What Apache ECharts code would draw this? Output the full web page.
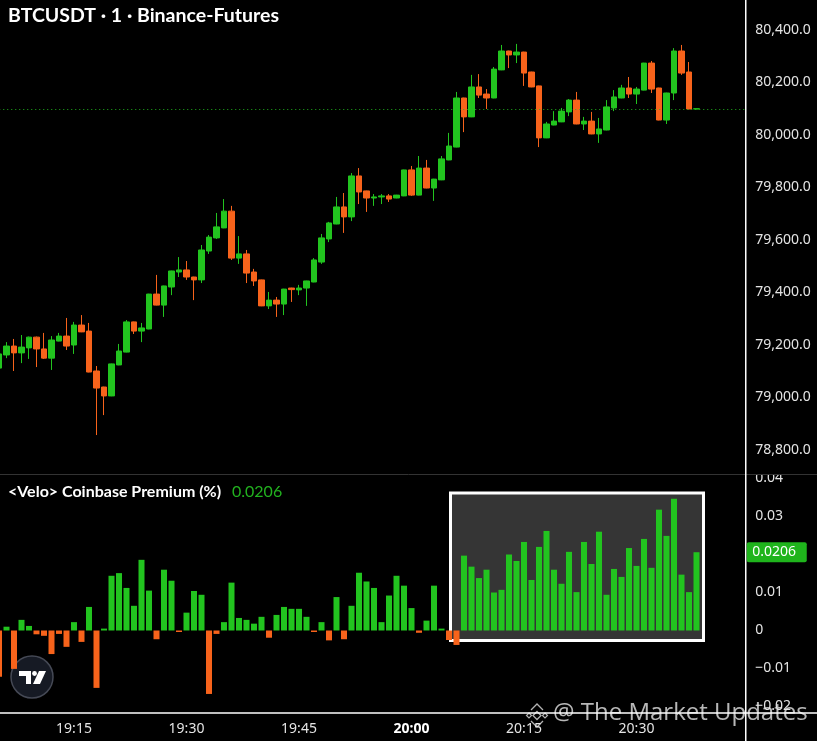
<!DOCTYPE html>
<html>
<head>
<meta charset="utf-8">
<script src="https://cdn.jsdelivr.net/npm/echarts@6/dist/echarts.min.js"></script>
<style>
  html, body { margin: 0; padding: 0; background: #000; }
  #chart { width: 817px; height: 741px; }
</style>
</head>
<body>
<div id="chart"></div>
<script>
// ---- Data (1-minute candles, BTCUSDT Binance-Futures) ----
const startMinute = 19 * 60 + 5;   // first candle 19:05
const slotCount = 100;             // 94 candles + empty space on the right
const tickLabels = ['19:15', '19:30', '19:45', '20:00', '20:15', '20:30'];

const opens = [79112,79162,79196,79170,79189,79230,79185,79150,79215,79234,
  79200,79276,79253,79101,79040,79006,79124,79173,79288,79253,
  79261,79394,79352,79421,79478,79486,79459,79448,79558,79608,
  79646,79710,79531,79547,79478,79448,79349,79371,79356,79417,
  79410,79417,79440,79516,79604,79661,79726,79688,79844,79787,
  79760,79764,79768,79760,79768,79867,79771,79874,79798,79829,
  79905,79954,80141,80069,80183,80156,80141,80248,80320,80305,
  80316,80240,80187,79989,80038,80050,80088,80133,80042,80053,
  80004,80019,80103,80141,80179,80156,80171,80274,80179,80057,
  80160,80320,80240,80099];
const closes = [79166,79196,79170,79192,79230,79185,79150,79219,79234,79196,
  79276,79250,79097,79036,79006,79128,79177,79288,79253,79265,
  79394,79352,79425,79482,79486,79459,79448,79562,79611,79650,
  79710,79531,79547,79474,79444,79349,79371,79356,79413,79411,
  79417,79444,79524,79608,79665,79726,79688,79844,79783,79760,
  79764,79768,79756,79771,79867,79771,79874,79798,79832,79909,
  79958,80141,80069,80183,80152,80141,80251,80320,80305,80316,
  80236,80183,79989,80042,80053,80091,80133,80042,80053,80004,
  80023,80107,80145,80179,80156,80175,80274,80175,80057,80160,
  80320,80236,80099,80100];
const lows = [79105,79150,79101,79131,79147,79116,79147,79105,79214,79181,
  79166,79249,79096,78857,78933,79005,79123,79172,79242,79211,
  79260,79351,79307,79390,79459,79448,79371,79436,79547,79604,
  79645,79524,79509,79436,79425,79348,79337,79307,79314,79364,
  79390,79349,79439,79509,79592,79660,79627,79672,79737,79707,
  79730,79737,79745,79759,79767,79768,79770,79797,79749,79828,
  79904,79953,80011,80068,80141,80099,80140,80247,80255,80274,
  80187,80182,79954,79988,80037,80049,80072,80041,80019,80003,
  79970,80018,80091,80140,80141,80118,80170,80160,80056,80042,
  80133,80229,80098,80099];
const highs = [79181,79211,79223,79238,79232,79232,79246,79234,79246,79303,
  79288,79314,79284,79120,79041,79129,79204,79295,79289,79284,
  79395,79467,79426,79483,79535,79520,79460,79581,79619,79703,
  79756,79730,79615,79562,79490,79449,79402,79383,79414,79418,
  79429,79445,79531,79623,79669,79764,79779,79855,79874,79788,
  79775,79775,79775,79772,79868,79882,79920,79905,79833,79920,
  80008,80164,80142,80229,80232,80175,80259,80343,80321,80347,
  80317,80241,80188,80050,80091,80103,80137,80164,80069,80088,
  80065,80133,80171,80191,80221,80183,80275,80282,80180,80161,
  80331,80343,80278,80100];

// <Velo> Coinbase Premium (%)
const premium = [-0.0122,0.0010,-0.0101,0.0028,0.0012,-0.0010,-0.0014,-0.0062,-0.0009,-0.0043,
  0.0022,-0.0030,0.0062,-0.0151,0.0005,0.0144,0.0151,0.0112,0.0065,0.0186,
  0.0105,-0.0023,0.0160,0.0131,-0.0004,0.0047,0.0104,0.0094,-0.0167,-0.0009,
  0.0022,0.0126,0.0033,0.0028,0.0018,0.0036,-0.0019,0.0041,0.0062,0.0057,
  0.0057,0.0036,-0.0004,0.0022,-0.0026,0.0088,-0.0023,0.0065,0.0152,0.0129,
  0.0112,0.0022,0.0092,0.0144,0.0118,0.0059,-0.0006,0.0026,0.0118,0.0005,
  -0.0025,-0.0038,0.0197,0.0168,0.0138,0.0160,0.0100,0.0107,0.0200,0.0183,
  0.0233,0.0133,0.0220,0.0262,0.0160,0.0123,0.0207,0.0101,0.0233,0.0175,
  0.0260,0.0094,0.0162,0.0141,0.0217,0.0170,0.0241,0.0165,0.0318,0.0249,
  0.0347,0.0147,0.0101,0.0206];
const premiumLast = 0.0206;
const lastPrice = 80099;
const highlightFrom = 60, highlightTo = 94;   // boxed region (category indices)
const highlightTop = 0.0366, highlightBottom = -0.003;

// ---- Build ----
const cats = [];
for (let i = 0; i < slotCount; i++) {
  const m = startMinute + i;
  cats.push(String(Math.floor(m / 60)).padStart(2, '0') + ':' + String(m % 60).padStart(2, '0'));
}
const candleData = opens.map((o, i) => [o, closes[i], lows[i], highs[i]]);

const GREEN = '#22c41f';
const ORANGE = '#f7631b';
const LABEL = '#e4e4e4';
const FONT = '"Noto Sans", "Open Sans", sans-serif';
const TITLE_FONT = 'Lato, "Noto Sans", sans-serif';

const chart = echarts.init(document.getElementById('chart'), null, { renderer: 'canvas' });

const option = {
  backgroundColor: '#000',
  animation: false,
  grid: [
    { left: -4.75, top: 30, width: 750, height: 420, containLabel: false, outerBoundsMode: 'none' },
    { left: -4.75, top: 478.5, width: 750, height: 228, containLabel: false, outerBoundsMode: 'none' }
  ],
  xAxis: [
    { type: 'category', gridIndex: 0, data: cats, boundaryGap: true, show: false },
    {
      type: 'category', gridIndex: 1, data: cats, boundaryGap: true,
      axisLine: { show: false }, axisTick: { show: false }, splitLine: { show: false },
      axisLabel: {
        interval: (idx, val) => tickLabels.indexOf(val) >= 0,
        margin: 16, color: LABEL, fontSize: 14, fontFamily: FONT,
        formatter: v => v === '20:00' ? '{b|' + v + '}' : v,
        rich: { b: { fontWeight: 'bold', color: '#fff', fontSize: 14, fontFamily: FONT } }
      }
    }
  ],
  yAxis: [
    {
      type: 'value', gridIndex: 0, position: 'right', min: 78800, max: 80400, interval: 200,
      axisLine: { show: false }, axisTick: { show: false }, splitLine: { show: false },
      axisLabel: {
        margin: 10, color: LABEL, fontSize: 14, fontFamily: FONT,
        formatter: v => v.toLocaleString('en-US', { minimumFractionDigits: 1, maximumFractionDigits: 1 })
      }
    },
    {
      type: 'value', gridIndex: 1, position: 'right', min: -0.02, max: 0.04, interval: 0.01,
      axisLine: { show: false }, axisTick: { show: false }, splitLine: { show: false },
      axisLabel: {
        margin: 10, color: LABEL, fontSize: 14, fontFamily: FONT,
        formatter: v => {
          const r = Math.round(v * 100) / 100;
          if (r === 0) return '0';
          return r < 0 ? '\u2212' + Math.abs(r).toFixed(2) : r.toFixed(2);
        }
      }
    }
  ],
  series: [
    {
      type: 'candlestick', xAxisIndex: 0, yAxisIndex: 0,
      data: candleData, barWidth: 6,
      itemStyle: { color: GREEN, color0: ORANGE, borderColor: GREEN, borderColor0: ORANGE, borderWidth: 1 },
      markLine: {
        silent: true, symbol: ['none', 'none'],
        label: { show: false },
        lineStyle: { color: GREEN, type: [1, 3], width: 1, opacity: 0.9 },
        data: [{ yAxis: lastPrice }]
      }
    },
    {
      type: 'bar', xAxisIndex: 1, yAxisIndex: 1,
      data: premium, barWidth: 6, z: 5,
      itemStyle: { color: p => p.value >= 0 ? GREEN : ORANGE }
    }
  ]
};
chart.setOption(option);

// ---- Annotations positioned through the chart's own scales ----
const px = c => chart.convertToPixel({ xAxisIndex: 1 }, c);
const py = v => chart.convertToPixel({ yAxisIndex: 1 }, v);
const boxL = px(cats[highlightFrom]);
const boxR = px(cats[highlightTo]) + 1;
const boxT = py(highlightTop);
const boxB = py(highlightBottom);
const labelY = py(premiumLast);
const axisX = px(cats[slotCount - 1]) + 3.75;   // right edge of plot

const wm = 'rgba(210,210,210,0.85)';
chart.setOption({
  graphic: [
    // highlighted region behind the bars
    { type: 'rect', z: 1, shape: { x: boxL + 1.5, y: boxT + 1.5, width: boxR - boxL - 3, height: boxB - boxT - 3 },
      style: { fill: '#353535', stroke: '#ffffff', lineWidth: 3 } },
    // pane separators
    { type: 'rect', z: 100, shape: { x: axisX + 1.5, y: 462, width: 80, height: 12 }, style: { fill: '#000' } },
    { type: 'line', z: 101, shape: { x1: 0, y1: 474.5, x2: 817, y2: 474.5 }, style: { stroke: '#333', lineWidth: 1 } },
    { type: 'line', z: 101, shape: { x1: axisX + 0.5, y1: 0, x2: axisX + 0.5, y2: 741 }, style: { stroke: '#ffffff', lineWidth: 1.5 } },
    { type: 'line', z: 101, shape: { x1: 0, y1: 713, x2: 817, y2: 713 }, style: { stroke: '#ffffff', lineWidth: 1.5 } },
    // last value label on the premium axis
    { type: 'rect', z: 102, shape: { x: axisX + 1.5, y: labelY - 10, width: 60, height: 20, r: 2 }, style: { fill: '#1fb41c' } },
    { type: 'text', z: 103, x: axisX + 7, y: labelY,
      style: { text: premiumLast.toFixed(4), fill: '#fff', font: '14px ' + FONT, verticalAlign: 'middle' } },
    // titles
    { type: 'text', z: 102, left: 8, top: 6,
      style: { text: 'BTCUSDT \u00b7 1 \u00b7 Binance-Futures', fill: '#fff', font: 'bold 19.5px ' + TITLE_FONT } },
    { type: 'text', z: 102, left: 8, top: 484,
      style: { text: '<Velo> Coinbase Premium (%)', fill: '#fff', font: 'bold 16px ' + TITLE_FONT } },
    { type: 'text', z: 102, left: 232, top: 484,
      style: { text: premiumLast.toFixed(4), fill: '#22b21f', font: '16px ' + TITLE_FONT } },
    // TradingView logo
    { type: 'group', z: 102, children: [
      { type: 'circle', shape: { cx: 32, cy: 677, r: 21 }, style: { fill: '#161a24', stroke: '#454955', lineWidth: 1.5 } },
      { type: 'polygon', shape: { points: [[19,671],[31,671],[31,684],[26,684],[26,676],[19,676]] }, style: { fill: '#fff' } },
      { type: 'circle', shape: { cx: 34.5, cy: 673.5, r: 2.4 }, style: { fill: '#fff' } },
      { type: 'polygon', shape: { points: [[39,671],[46,671],[40,684],[33,684]] }, style: { fill: '#fff' } }
    ] },
    // watermark
    { type: 'group', z: 104, children: [
      { type: 'polygon', shape: { points: [[537,711.5],[541,715.5],[537,719.5],[533,715.5]] }, style: { fill: 'none', stroke: wm, lineWidth: 1.3 } },
      { type: 'polyline', shape: { points: [[531,710],[537,704],[543,710]] }, style: { stroke: wm, lineWidth: 1.3, fill: 'none' } },
      { type: 'polyline', shape: { points: [[531,721],[537,727],[543,721]] }, style: { stroke: wm, lineWidth: 1.3, fill: 'none' } },
      { type: 'polygon', shape: { points: [[529,713],[531.5,715.5],[529,718],[526.5,715.5]] }, style: { fill: 'none', stroke: wm, lineWidth: 1.2 } },
      { type: 'polygon', shape: { points: [[545,713],[547.5,715.5],[545,718],[542.5,715.5]] }, style: { fill: 'none', stroke: wm, lineWidth: 1.2 } },
      { type: 'text', left: 553, top: 701,
        style: { text: '@ The Market Updates', fill: 'rgba(215,215,215,0.85)', font: '24px "Open Sans", sans-serif' } }
    ] }
  ]
});
</script>
</body>
</html>
